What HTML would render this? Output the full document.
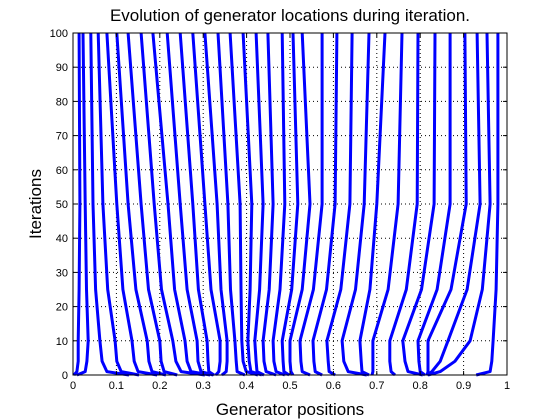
<!DOCTYPE html>
<html><head><meta charset="utf-8"><style>
html,body{margin:0;padding:0;background:#fff;width:560px;height:420px;overflow:hidden}
svg text{font-family:"Liberation Sans",sans-serif;fill:#000}
</style></head><body>
<svg id="chart" width="560" height="420" xmlns="http://www.w3.org/2000/svg">
<rect x="0" y="0" width="560" height="420" fill="#fff"/>
<text x="290" y="21" font-size="17" text-anchor="middle">Evolution of generator locations during iteration.</text>
<text x="290" y="415" font-size="17" text-anchor="middle">Generator positions</text>
<text x="0" y="0" font-size="17" text-anchor="middle" transform="translate(41,204) rotate(-90)">Iterations</text>
<g id="grid"></g>
<g id="series"></g>
<g id="axes"></g>
</svg>
<script>
const iterations = [0, 1, 4, 10, 25, 50, 100];
const xTicks = [0,0.1,0.2,0.3,0.4,0.5,0.6,0.7,0.8,0.9,1];
const xTickLabels = ["0","0.1","0.2","0.3","0.4","0.5","0.6","0.7","0.8","0.9","1"];
const yTicks = [0,10,20,30,40,50,60,70,80,90,100];
const yTickLabels = ["0","10","20","30","40","50","60","70","80","90","100"];
const posIter0 = [.002,.009,.129,.152,.194,.214,.240,.304,.316,.323,.325,.329,.343,.396,.426,.435,.440,.468,.488,.498,.507,.546,.574,.604,.677,.682,.689,.742,.806,.811,.816,.816,.818,.929];
const posIter1 = [.009,.028,.078,.111,.150,.182,.210,.249,.272,.295,.313,.336,.353,.378,.399,.410,.424,.445,.468,.486,.502,.528,.558,.590,.634,.666,.691,.733,.772,.800,.818,.827,.846,.961];
const posIter4 = [.012,.032,.067,.101,.141,.175,.203,.237,.263,.288,.311,.339,.355,.376,.392,.406,.422,.440,.463,.484,.500,.525,.555,.588,.624,.664,.691,.730,.765,.797,.818,.846,.880,.965];
const posIter10 = [.012,.035,.062,.097,.136,.171,.200,.230,.258,.286,.309,.339,.355,.373,.389,.403,.419,.438,.461,.482,.500,.523,.553,.585,.620,.661,.691,.730,.760,.795,.818,.864,.915,.968];
const posIter25 = [.014,.031,.052,.080,.115,.145,.174,.204,.234,.263,.289,.318,.341,.363,.387,.408,.430,.452,.477,.504,.528,.554,.584,.617,.651,.684,.726,.768,.803,.839,.871,.908,.943,.975];
const posIter50 = [.016,.028,.046,.069,.101,.127,.157,.187,.219,.247,.276,.304,.332,.357,.385,.412,.438,.461,.488,.518,.546,.574,.604,.638,.671,.700,.749,.793,.832,.869,.906,.938,.961,.979];
const posIter100 = [.014,.023,.041,.058,.078,.101,.127,.157,.184,.217,.247,.276,.304,.334,.362,.392,.422,.449,.482,.507,.528,.574,.608,.643,.682,.719,.758,.795,.834,.869,.903,.931,.954,.979];

const L=73,R=507,T=33,B=375;
const NS="http://www.w3.org/2000/svg";
function sx(v){return L+v*(R-L);}
function sy(v){return B-v/100*(B-T);}
function mk(tag,attrs,parent){const e=document.createElementNS(NS,tag);for(const k in attrs)e.setAttribute(k,attrs[k]);parent.appendChild(e);return e;}
const grid=document.getElementById('grid'),series=document.getElementById('series'),axes=document.getElementById('axes');
xTicks.forEach((t,i)=>{
  if(i>0&&i<xTicks.length-1){const g=mk('line',{x1:sx(t),x2:sx(t),y1:T,y2:B,stroke:'#000','stroke-width':1,'stroke-dasharray':'1,3'},grid);
  
  }
});
yTicks.forEach((t,i)=>{
  if(i>0&&i<yTicks.length-1){const g=mk('line',{x1:L,x2:R,y1:sy(t),y2:sy(t),stroke:'#000','stroke-width':1,'stroke-dasharray':'1,3'},grid);
  
  }
});
const cols=[posIter0,posIter1,posIter4,posIter10,posIter25,posIter50,posIter100];
for(let g=0;g<posIter0.length;g++){
  const pts=iterations.map((it,k)=>sx(cols[k][g]).toFixed(1)+','+sy(it).toFixed(1)).join(' ');
  const p=mk('polyline',{points:pts,fill:'none',stroke:'#0000ff','stroke-width':3,'stroke-linejoin':'round'},series);
  
  
}
const box=mk('rect',{x:L,y:T,width:R-L,height:B-T,fill:'none',stroke:'#000','stroke-width':1},axes);


xTicks.forEach((t,i)=>{
  mk('line',{x1:sx(t),x2:sx(t),y1:B,y2:B-4,stroke:'#000'},axes);
  mk('line',{x1:sx(t),x2:sx(t),y1:T,y2:T+4,stroke:'#000'},axes);
  const tx=mk('text',{x:sx(t),y:B+14,'font-size':11,'text-anchor':'middle'},axes);
  tx.textContent=xTickLabels[i];
  
  
});
yTicks.forEach((t,i)=>{
  mk('line',{x1:L,x2:L+4,y1:sy(t),y2:sy(t),stroke:'#000'},axes);
  mk('line',{x1:R,x2:R-4,y1:sy(t),y2:sy(t),stroke:'#000'},axes);
  const tx=mk('text',{x:L-5,y:sy(t)+4,'font-size':11,'text-anchor':'end'},axes);
  tx.textContent=yTickLabels[i];
  
  
});
</script>
</body></html>
